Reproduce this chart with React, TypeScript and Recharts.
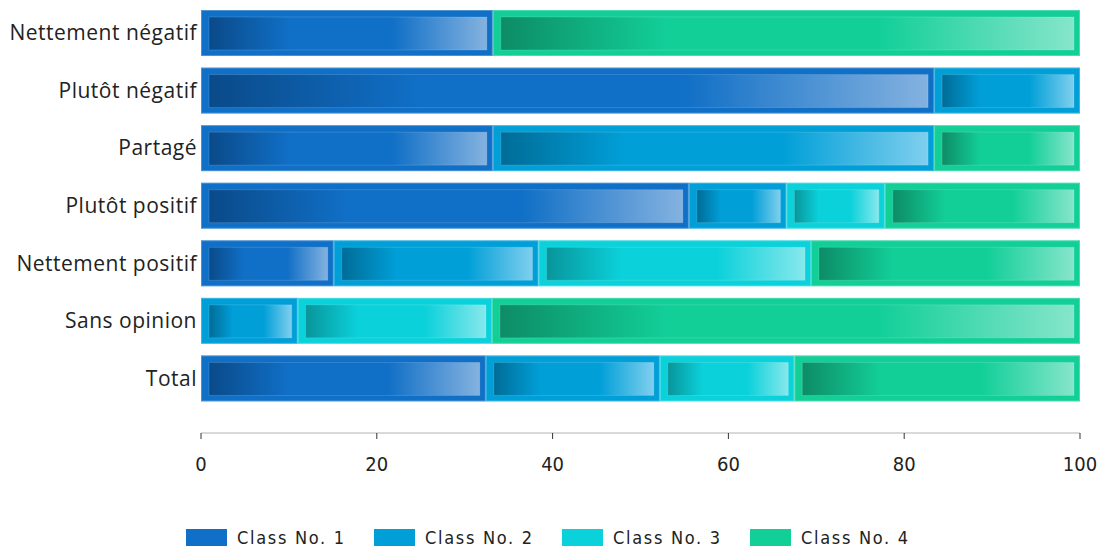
import React from 'react';
import { BarChart, Bar, XAxis, YAxis, Legend } from 'recharts';

const categories = ['Nettement négatif', 'Plutôt négatif', 'Partagé', 'Plutôt positif', 'Nettement positif', 'Sans opinion', 'Total'];
const class1 = [33.2, 83.4, 33.2, 55.5, 15.1, 0, 32.4];
const class2 = [0, 16.6, 50.2, 11.1, 23.3, 11.0, 19.8];
const class3 = [0, 0, 0, 11.2, 31.0, 22.1, 15.3];
const class4 = [66.8, 0, 16.6, 22.2, 30.6, 66.9, 32.5];
const seriesNames = ['Class No. 1', 'Class No. 2', 'Class No. 3', 'Class No. 4'];
const xTicks = [0, 20, 40, 60, 80, 100];

const BASE = ['#106fc6', '#009fd8', '#0bd1da', '#12cf98'];
const DARK = ['#0a4a89', '#006c97', '#08959b', '#0d8c66'];
const LIGHT = ['#84b2e0', '#7fcfee', '#86e8ec', '#86e5cb'];

const data = categories.map((c, i) => ({
  name: c,
  c1: class1[i],
  c2: class2[i],
  c3: class3[i],
  c4: class4[i],
}));

const keys = ['c1', 'c2', 'c3', 'c4'];

const makeShape = (i: number) => (props: any) => {
  const { x, y, width, height } = props;
  if (!width || width <= 0.5) return <g />;
  return (
    <g>
      <rect x={x} y={y} width={width} height={height} fill={BASE[i]} />
      <rect x={x + 0.5} y={y + 0.5} width={width - 1} height={height - 1} fill="none" stroke="#ffffff" strokeOpacity={0.25} />
      <rect x={x + 8} y={y + 7} width={Math.max(0, width - 14)} height={height - 13} fill={`url(#grad${i})`} stroke="#ffffff" strokeOpacity={0.15} />
    </g>
  );
};

const condensed = "'DejaVu Sans Condensed', 'DejaVu Sans', sans-serif";

const renderLegend = () => (
  <div style={{ position: 'relative', height: 40, width: 1110 }}>
    {seriesNames.map((n, i) => (
      <div key={n} style={{ position: 'absolute', left: 186 + i * 188, top: 16, display: 'flex', alignItems: 'center', height: 20 }}>
        <div style={{ width: 41, height: 17, background: BASE[i] }} />
        <span style={{ marginLeft: 10, fontFamily: condensed, fontStretch: 'condensed', fontSize: 18, letterSpacing: 1.7, color: '#222' }}>{n}</span>
      </div>
    ))}
  </div>
);

export default function App() {
  return (
    <div style={{ marginLeft: -8, marginTop: -8, width: 1110, height: 551, background: '#fff' }}>
      <BarChart
        width={1110}
        height={551}
        data={data}
        layout="vertical"
        margin={{ top: 4, right: 30, bottom: 0, left: 0 }}
        barSize={46}
      >
        <defs>
          {BASE.map((b, i) => (
            <linearGradient key={i} id={`grad${i}`} x1="0" y1="0" x2="1" y2="0">
              <stop offset="0%" stopColor={DARK[i]} />
              <stop offset="29%" stopColor={b} />
              <stop offset="66%" stopColor={b} />
              <stop offset="100%" stopColor={LIGHT[i]} />
            </linearGradient>
          ))}
        </defs>
        <XAxis
          type="number"
          domain={[0, 100]}
          ticks={xTicks}
          height={78}
          axisLine={{ stroke: '#cccccc', strokeWidth: 1.5 }}
          tickLine={{ stroke: '#333' }}
          tickSize={6}
          tickMargin={18}
          tick={{ fontFamily: condensed, fontStretch: 'condensed', fontSize: 20, fill: '#222' }}
        />
        <YAxis
          type="category"
          dataKey="name"
          width={201}
          axisLine={false}
          tickLine={false}
          tickSize={4}
          tickMargin={0}
          padding={{ top: 0, bottom: 26 }}
          tick={{ fontFamily: "'Open Sans', sans-serif", fontSize: 21, letterSpacing: 0.5, fill: '#222' }}
          interval={0}
        />
        <Legend verticalAlign="bottom" content={renderLegend} height={40} />
        {keys.map((k, i) => (
          <Bar key={k} dataKey={k} name={seriesNames[i]} stackId="a" fill={BASE[i]} shape={makeShape(i)} isAnimationActive={false} />
        ))}
      </BarChart>
    </div>
  );
}
